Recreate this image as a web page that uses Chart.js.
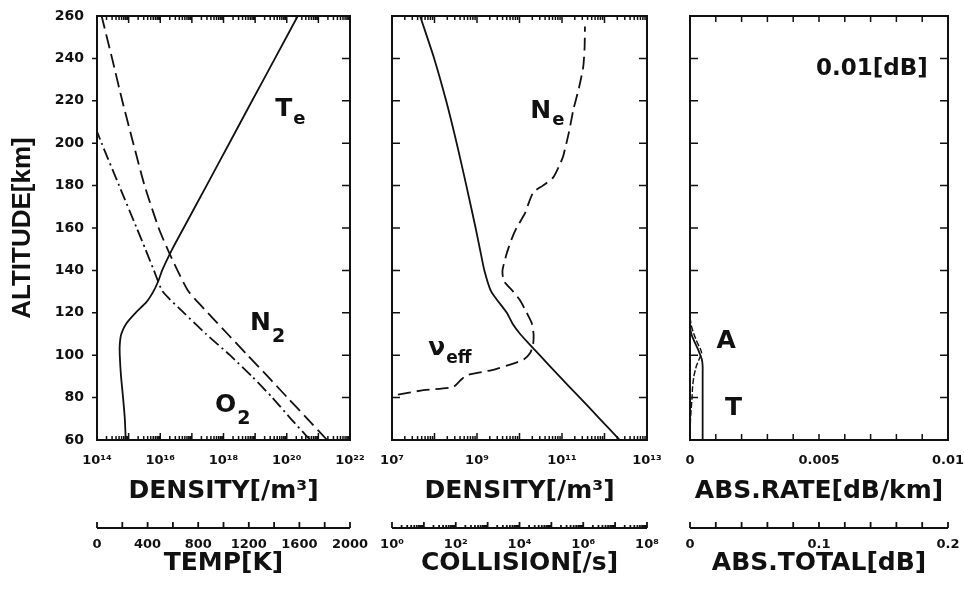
<!DOCTYPE html>
<html><head><meta charset="utf-8">
<script src="https://cdn.jsdelivr.net/npm/chart.js@4.4.0/dist/chart.umd.min.js"></script>
<style>
html,body{margin:0;padding:0;background:#fff;}
#wrap{position:relative;width:964px;height:593px;background:#fff;overflow:hidden;}
#wrap canvas{position:absolute;left:0;top:0;}
</style></head><body>
<div id="wrap">
<canvas id="c1" width="964" height="593"></canvas>
<canvas id="c2" width="964" height="593"></canvas>
<canvas id="c3" width="1000" height="593"></canvas>
</div>
<script>
// ---------------- data ----------------
const altTicks = [60, 80, 100, 120, 140, 160, 180, 200, 220, 240, 260];

// Panel 1: neutral densities [/m3] and electron temperature [K]
const n2Alt = [60, 70, 80, 90, 100, 110, 120, 130, 140, 150, 160, 180, 200, 220, 240, 260];
const n2Density = [1.9e21, 4.5e20, 1.05e20, 2.5e19, 5.8e18, 1.35e18, 3.2e17, 7.9e16, 3.5e16, 1.7e16, 8.9e15, 3.2e15, 1.4e15, 6.3e14, 3.0e14, 1.4e14];
const o2Alt = [60, 70, 80, 90, 100, 110, 120, 130, 140, 150, 160, 180, 200, 210];
const o2Density = [5.5e20, 1.35e20, 3.5e19, 7.9e18, 1.6e18, 2.8e17, 5.6e16, 1.2e16, 6.3e15, 3.4e15, 1.8e15, 5.0e14, 1.4e14, 7.6e13];
const teAlt = [60, 70, 80, 90, 100, 105, 110, 115, 120, 125, 130, 135, 140, 150, 160, 180, 200, 220, 240, 260];
const teTemp = [227, 220, 206, 190, 180, 180, 192, 232, 305, 390, 445, 485, 515, 595, 685, 866, 1046, 1226, 1407, 1587];
const p1DensityTicks = [1e14, 1e16, 1e18, 1e20, 1e22];
const p1TempTicks = [0, 400, 800, 1200, 1600, 2000];

// Panel 2: electron density [/m3] and effective collision frequency [/s]
const neAlt = [80, 81.2, 83.5, 85, 88, 90.6, 93, 96, 98, 101, 105, 110, 115, 120, 126, 130, 135, 140, 148, 155, 160, 167, 172, 177, 180, 184, 190, 194, 205, 216, 226, 236, 245, 255];
const neDensity = [5.0e6, 1.17e7, 5.5e7, 2.75e8, 4.0e8, 5.75e8, 2.24e9, 7.1e9, 1.26e10, 1.78e10, 2.09e10, 2.14e10, 1.95e10, 1.48e10, 1.02e10, 7.1e9, 4.27e9, 3.98e9, 5.0e9, 6.6e9, 8.5e9, 1.35e10, 1.66e10, 2.14e10, 3.55e10, 6.3e10, 8.9e10, 1.07e11, 1.45e11, 1.86e11, 2.5e11, 3.16e11, 3.4e11, 3.47e11];
const nuAlt = [60, 70, 80, 90, 100, 105, 110, 115, 120, 130, 140, 150, 160, 180, 200, 220, 240, 260];
const nuCollision = [1.4e7, 3.3e6, 7.8e5, 1.8e5, 4.3e4, 2.1e4, 1.05e4, 6.0e3, 4.0e3, 1.3e3, 790, 575, 420, 215, 107, 50, 21, 7.6];
const p2DensityTicks = [1e7, 1e9, 1e11, 1e13];
const p2CollisionTicks = [1e0, 1e2, 1e4, 1e6, 1e8];

// Panel 3: absorption rate [dB/km] and total absorption [dB]
const absAlt = [60, 70, 80, 85, 90, 95, 98, 101, 103, 106, 110, 114, 118, 120];
const absRate = [0, 0.00002, 0.00008, 0.0001, 0.00015, 0.00025, 0.00035, 0.00045, 0.0004, 0.00028, 0.00015, 0.00005, 0, 0];
const totAlt = [60, 80, 90, 95, 98, 100, 102.5, 105, 107, 109.5, 112, 115, 120];
const totAbs = [0.0098, 0.0098, 0.0098, 0.0098, 0.0092, 0.0080, 0.0064, 0.0045, 0.003, 0.0013, 0.0004, 0, 0];
const p3RateTicks = [0, 0.005, 0.01];
const p3TotalTicks = [0, 0.1, 0.2];

// ---------------- helpers ----------------
const INK = '#111';
const F = "'DejaVu Sans', 'Liberation Sans', sans-serif";
const pts = (ys, xs) => ys.map((y, i) => ({ x: xs[i], y }));
const SUP = '⁰¹²³⁴⁵⁶⁷⁸⁹';
const sup = n => String(n).split('').map(c => SUP[+c]).join('');
const powLabel = v => '10' + sup(Math.round(Math.log10(v)));

function edgeValues(spec, ends) {
  const out = [];
  if (spec.log) {
    const [a, b] = spec.log;
    for (let n = a; n <= b; n++) {
      if (ends || (n > a && n < b)) out.push({ v: Math.pow(10, n), len: spec.major });
      if (n < b) for (let k = 2; k <= 9; k++) out.push({ v: k * Math.pow(10, n), len: spec.minor });
    }
  } else {
    const [a, b, st] = spec.lin;
    const cnt = Math.round((b - a) / st);
    for (let i = 0; i <= cnt; i++) {
      if (!ends && (i === 0 || i === cnt)) continue;
      out.push({ v: a + i * st, len: spec.major });
    }
  }
  return out;
}

const framePlugin = {
  id: 'frame',
  afterDatasetsDraw(chart, args, o) {
    const { ctx, chartArea: a } = chart;
    const ys = chart.scales.y, xs = chart.scales.x, x2 = chart.scales.x2;
    ctx.save();
    ctx.strokeStyle = INK;
    ctx.lineWidth = 2;
    ctx.strokeRect(a.left, a.top, a.right - a.left, a.bottom - a.top);
    ctx.lineWidth = 1.5;
    ctx.beginPath();
    altTicks.forEach(v => {
      if (v === 60 || v === 260) return;
      const p = ys.getPixelForValue(v);
      if (o.leftOut) { ctx.moveTo(a.left - 5, p); ctx.lineTo(a.left, p); }
      else { ctx.moveTo(a.left, p); ctx.lineTo(a.left + 8, p); }
      ctx.moveTo(a.right, p); ctx.lineTo(a.right - 8, p);
    });
    edgeValues(o.edge, false).forEach(m => {
      const p = xs.getPixelForValue(m.v);
      ctx.moveTo(p, a.top); ctx.lineTo(p, a.top + m.len);
      ctx.moveTo(p, a.bottom); ctx.lineTo(p, a.bottom - m.len);
    });
    ctx.stroke();
    // secondary axis line with upward ticks
    const by = x2.top;
    ctx.lineWidth = 1.8;
    ctx.beginPath();
    ctx.moveTo(a.left, by); ctx.lineTo(a.right, by);
    edgeValues(o.edge2, true).forEach(m => {
      const p = x2.getPixelForValue(m.v);
      ctx.moveTo(p, by); ctx.lineTo(p, by - m.len);
    });
    ctx.stroke();
    // in-plot labels
    ctx.fillStyle = INK;
    ctx.textBaseline = 'alphabetic';
    (o.labels || []).forEach(L => {
      const sc = chart.scales[L.axis || 'x'];
      const px = sc.getPixelForValue(L.x), py = ys.getPixelForValue(L.y);
      ctx.font = `bold ${L.size || 25}px ${F}`;
      ctx.textAlign = L.align || 'left';
      ctx.fillText(L.t, px, py);
      if (L.s) {
        const w = ctx.measureText(L.t).width;
        ctx.font = `bold ${L.ss || 18}px ${F}`;
        ctx.textAlign = 'left';
        ctx.fillText(L.s, px + w + 1, py + (L.dy || 8));
      }
    });
    ctx.restore();
  }
};

function xScale(type, min, max, tickVals, cb, title, weight, height, pad, titlePad) {
  return {
    type, min, max, position: 'bottom', weight,
    afterFit: s => { s.height = height; },
    afterBuildTicks: s => { s.ticks = tickVals.map(v => ({ value: v })); },
    grid: { display: false }, border: { display: false },
    ticks: { autoSkip: false, maxRotation: 0, minRotation: 0, padding: pad, color: INK,
             font: { family: F, weight: 'bold', size: 13 }, callback: cb },
    title: { display: true, text: title, color: INK,
             font: { family: F, weight: 'bold', size: 25 }, padding: { top: 0, bottom: titlePad } }
  };
}

function makeChart(id, cfg) {
  return new Chart(document.getElementById(id), {
    type: 'line',
    data: { datasets: cfg.datasets },
    options: {
      responsive: false, animation: false, devicePixelRatio: 1, indexAxis: 'y',
      events: [],
      layout: { padding: cfg.padding },
      plugins: { legend: { display: false }, tooltip: { enabled: false }, frame: cfg.frame },
      elements: { point: { radius: 0 }, line: { tension: 0.2, borderColor: INK, borderWidth: 1.8, fill: false } },
      scales: {
        y: {
          type: 'linear', min: 60, max: 260, display: cfg.showY,
          afterFit: s => { s.width = cfg.yWidth; },
          afterBuildTicks: s => { s.ticks = altTicks.map(v => ({ value: v })); },
          grid: { display: false }, border: { display: false },
          ticks: { autoSkip: false, padding: 5, color: INK, font: { family: F, weight: 'bold', size: 14 } },
          title: { display: cfg.showY, text: 'ALTITUDE[km]', color: INK,
                   font: { family: "'Liberation Sans', Arial, sans-serif", weight: 'bold', size: 26 },
                   padding: { top: 7, bottom: 0 } }
        },
        x: cfg.x,
        x2: cfg.x2
      }
    },
    plugins: [framePlugin]
  });
}

const lineDs = (label, data, extra) => Object.assign({
  label, data, borderColor: INK, borderWidth: 1.8, pointRadius: 0, fill: false
}, extra);

// Panel 1
makeChart('c1', {
  padding: { left: 0, right: 964 - 350, top: 16, bottom: 0 },
  showY: true, yWidth: 97,
  x: xScale('logarithmic', 1e14, 1e22, p1DensityTicks, powLabel, 'DENSITY[/m³]', 0, 88, 5, 22),
  x2: xScale('linear', 0, 2000, p1TempTicks, v => String(v), 'TEMP[K]', 1, 65, 1, 15),
  datasets: [
    lineDs('N2', pts(n2Alt, n2Density), { xAxisID: 'x', borderDash: [14, 6] }),
    lineDs('O2', pts(o2Alt, o2Density), { xAxisID: 'x', borderDash: [12, 4, 2, 4] }),
    lineDs('Te', pts(teAlt, teTemp), { xAxisID: 'x2' })
  ],
  frame: {
    leftOut: true,
    edge: { log: [14, 22], major: 7, minor: 4 },
    edge2: { lin: [0, 2000, 200], major: 6 },
    labels: [
      { t: 'T', s: 'e', x: 4.3e19, y: 213, dy: 8 },
      { t: 'N', s: '2', x: 6.9e18, y: 112, dy: 12, ss: 19 },
      { t: 'O', s: '2', x: 5.4e17, y: 73.4, dy: 12, ss: 19 }
    ]
  }
});

// Panel 2
makeChart('c2', {
  padding: { left: 392, right: 964 - 647, top: 16, bottom: 0 },
  showY: false, yWidth: 0,
  x: xScale('logarithmic', 1e7, 1e13, p2DensityTicks, powLabel, 'DENSITY[/m³]', 0, 88, 5, 22),
  x2: xScale('logarithmic', 1e0, 1e8, p2CollisionTicks, powLabel, 'COLLISION[/s]', 1, 65, 1, 15),
  datasets: [
    lineDs('Ne', pts(neAlt, neDensity), { xAxisID: 'x', borderDash: [13, 6] }),
    lineDs('nu_eff', pts(nuAlt, nuCollision), { xAxisID: 'x2' })
  ],
  frame: {
    edge: { log: [7, 13], major: 7, minor: 4 },
    edge2: { log: [0, 8], major: 6, minor: 3 },
    labels: [
      { t: 'N', s: 'e', x: 1.8e10, y: 211.7, dy: 7 },
      { t: 'ν', s: 'eff', x: 7.1e7, y: 100, dy: 8, ss: 17 }
    ]
  }
});

// Panel 3 (canvas is wider than the page so the layout padding can hold the last tick label)
makeChart('c3', {
  padding: { left: 690, right: 1000 - 948, top: 16, bottom: 0 },
  showY: false, yWidth: 0,
  x: xScale('linear', 0, 0.01, p3RateTicks, v => String(v), 'ABS.RATE[dB/km]', 0, 88, 5, 22),
  x2: xScale('linear', 0, 0.2, p3TotalTicks, v => String(v), 'ABS.TOTAL[dB]', 1, 65, 1, 15),
  datasets: [
    lineDs('A', pts(absAlt, absRate), { xAxisID: 'x', borderWidth: 1.4, borderDash: [6, 2] }),
    lineDs('T', pts(totAlt, totAbs), { xAxisID: 'x2' })
  ],
  frame: {
    edge: { lin: [0, 0.01, 0.001], major: 6 },
    edge2: { lin: [0, 0.2, 0.02], major: 6 },
    labels: [
      { t: '0.01[dB]', x: 0.00922, y: 232, align: 'right', size: 23 },
      { t: 'A', x: 0.00103, y: 103.3 },
      { t: 'T', x: 0.00136, y: 71.8 }
    ]
  }
});
</script>
</body></html>
